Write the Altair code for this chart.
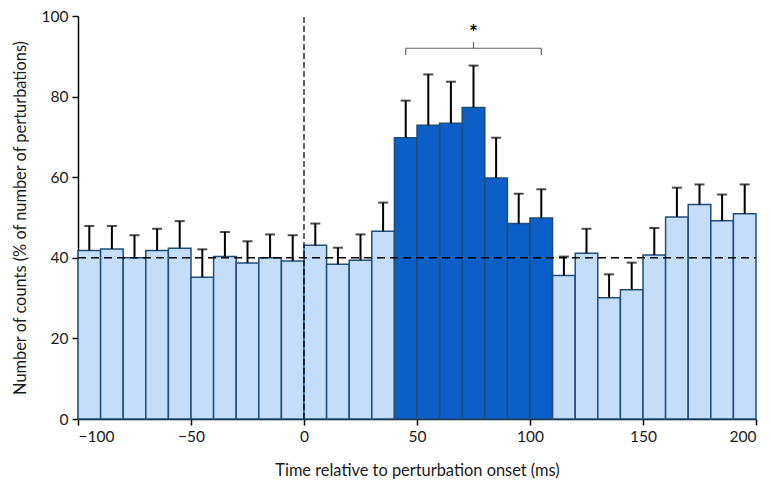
import altair as alt
import pandas as pd

# bin starts (ms), bin width 10
bin_start = [-100, -90, -80, -70, -60, -50, -40, -30, -20, -10,
             0, 10, 20, 30, 40, 50, 60, 70, 80, 90,
             100, 110, 120, 130, 140, 150, 160, 170, 180, 190]
counts = [41.8, 42.2, 40.0, 41.8, 42.4, 35.2, 40.3, 38.7, 40.0, 39.2,
          43.1, 38.4, 39.4, 46.6, 69.8, 72.9, 73.4, 77.3, 59.8, 48.5,
          49.9, 35.6, 41.1, 30.1, 32.1, 40.7, 50.1, 53.2, 49.2, 50.9]
err_top = [47.9, 47.9, 45.6, 47.2, 49.1, 42.1, 46.4, 44.1, 45.8, 45.6,
           48.5, 42.5, 45.8, 53.7, 79.0, 85.5, 83.7, 87.7, 69.8, 55.9,
           57.0, 40.3, 47.2, 35.9, 38.8, 47.4, 57.4, 58.2, 55.7, 58.2]
group = ["base"] * 14 + ["sig"] * 7 + ["base"] * 9

baseline = 40
bracket_x = [45, 105]
bracket_y = 92
bracket_tick_y = 90.3
bracket_center = 75
bracket_top = 93.6
star_y = 95.6

df = pd.DataFrame({
    "start": bin_start,
    "end": [b + 10 for b in bin_start],
    "mid": [b + 5 for b in bin_start],
    "count": counts,
    "zero": [0] * len(bin_start),
    "err": err_top,
    "group": group,
})

FONT = "Lato"
xscale = alt.Scale(domain=[-100, 200], nice=False, zero=False)
yscale = alt.Scale(domain=[0, 100], nice=False)

base = alt.Chart(df)

bars = base.mark_bar(stroke="#1f4e79", strokeWidth=1.5).encode(
    x=alt.X("start:Q", scale=xscale,
            axis=alt.Axis(values=[-100, -50, 0, 50, 100, 150, 200],
                          title="Time relative to perturbation onset (ms)",
                          titlePadding=18)),
    x2="end:Q",
    y=alt.Y("count:Q", scale=yscale,
            axis=alt.Axis(values=[0, 20, 40, 60, 80, 100],
                          title="Number of counts (% of number of perturbations)",
                          titlePadding=13)),
    y2="zero:Q",
    color=alt.Color("group:N",
                    scale=alt.Scale(domain=["base", "sig"], range=["#c4defa", "#0b5fc6"]),
                    legend=None),
)

err_line = base.mark_rule(color="black", strokeWidth=2).encode(
    x="mid:Q", y="count:Q", y2="err:Q"
)
err_cap = base.mark_tick(color="black", orient="horizontal", size=10, thickness=2).encode(
    x="mid:Q", y="err:Q"
)

hline = alt.Chart(pd.DataFrame({"x": [-100], "x2": [200], "y": [baseline]})).mark_rule(
    color="black", strokeWidth=1.5, strokeDash=[8, 5]
).encode(x="x:Q", x2="x2:Q", y="y:Q")

vline = alt.Chart(pd.DataFrame({"x": [0], "y": [0], "y2": [100]})).mark_rule(
    color="black", strokeWidth=1.2, strokeDash=[6, 3]
).encode(x="x:Q", y="y:Q", y2="y2:Q")

br_h = alt.Chart(pd.DataFrame({"x": [bracket_x[0]], "x2": [bracket_x[1]], "y": [bracket_y]})).mark_rule(
    color="#666666", strokeWidth=1.2
).encode(x="x:Q", x2="x2:Q", y="y:Q")

br_v = alt.Chart(pd.DataFrame({
    "x": [bracket_x[0], bracket_x[1], bracket_center],
    "y": [bracket_tick_y, bracket_tick_y, bracket_y],
    "y2": [bracket_y, bracket_y, bracket_top],
})).mark_rule(color="#666666", strokeWidth=1.2).encode(x="x:Q", y="y:Q", y2="y2:Q")

star = alt.Chart(pd.DataFrame({"x": [bracket_center], "y": [star_y], "t": ["*"]})).mark_text(
    font=FONT, fontSize=21, fontWeight="bold", color="black", baseline="middle"
).encode(x="x:Q", y="y:Q", text="t:N")

chart = alt.layer(bars, err_line, err_cap, hline, vline, br_h, br_v, star).properties(
    width=678, height=403,
    autosize=alt.AutoSizeParams(type="none"),
    padding={"left": 70, "top": 8, "right": 4, "bottom": 62},
).configure_view(stroke=None).configure_axis(
    grid=False,
    domainColor="black",
    domainWidth=1.5,
    tickColor="black",
    tickWidth=1.5,
    tickSize=6,
    labelFont=FONT,
    labelFontSize=15.5,
    labelColor="#1a1a1a",
    labelPadding=4,
    titleFont=FONT,
    titleFontSize=16.4,
    titleFontWeight="normal",
    titleColor="#1a1a1a",
)

chart.save("out.html", embed_options={"renderer": "svg", "actions": False})
